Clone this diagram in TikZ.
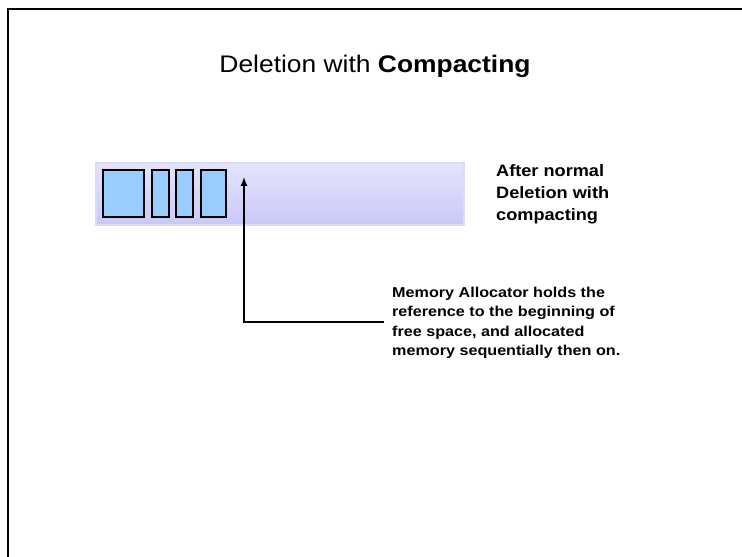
\documentclass[tikz,border=0pt]{standalone}
\usepackage{fontspec}
\setmainfont{Liberation Sans}
\usepackage{tikz}
\usetikzlibrary{positioning}
\definecolor{blockblue}{HTML}{99CCFF}
\definecolor{bartop}{HTML}{E4E4FC}
\definecolor{barbot}{HTML}{C8C8F8}
\definecolor{barline}{HTML}{DADAFC}
\newfontfamily\widefont[FakeStretch=1.10]{Liberation Sans}
\newfontfamily\notefont[FakeStretch=1.13]{Liberation Sans}
\tikzset{membar/.style={draw=barline, line width=2pt, rectangle, top color=bartop, bottom color=barbot, minimum width=368pt, minimum height=62pt, inner sep=0pt, outer sep=0pt}}
\tikzset{block/.style={draw=black, line width=2pt, rectangle, fill=blockblue, minimum height=47pt, inner sep=0pt, outer sep=0pt}}
\tikzset{label/.style={font=\widefont\bfseries\fontsize{16.5}{22}\selectfont, align=left, inner sep=0pt}}
\tikzset{note/.style={font=\notefont\bfseries\fontsize{14.3}{19.5}\selectfont, align=left, inner xsep=8pt, inner ysep=0pt}}

\begin{document}
\begin{tikzpicture}[x=1pt, y=-1pt]
		\useasboundingbox (0,0) rectangle (742,557);
		% slide frame
		\draw[line width=1.2pt] (8,557) -- (8,9.5);
		\draw[line width=2pt] (7.4,9) -- (742,9);
		
		\node[font=\widefont\fontsize{24}{28}\selectfont] (title) at (375,66) {Deletion with \textbf{Compacting}};
		
		\node[membar] (bar) at (280,194) {};
		\node[block, minimum width=41pt, anchor=west] (B1) at (103,193.5) {};
		\node[block, minimum width=17pt] (B2) [right=8pt of B1] {};
		\node[block, minimum width=17pt] (B3) [right=7pt of B2] {};
		\node[block, minimum width=25pt] (B4) [right=8pt of B3] {};
		
		\node[label] (after) [right=32pt of bar] {After normal\\Deletion with\\compacting};
		
		\node[note, anchor=west] (alloc) at (384,323) {Memory Allocator holds the\\reference to the beginning of\\free space, and allocated\\memory sequentially then on.};
		
		\coordinate (bend) at (244,322);
		\coordinate (free) at (244,177);
		\draw[line width=2pt, -latex] (alloc.west |- bend) -- (bend) -- (free);
	\end{tikzpicture}
\end{document}
